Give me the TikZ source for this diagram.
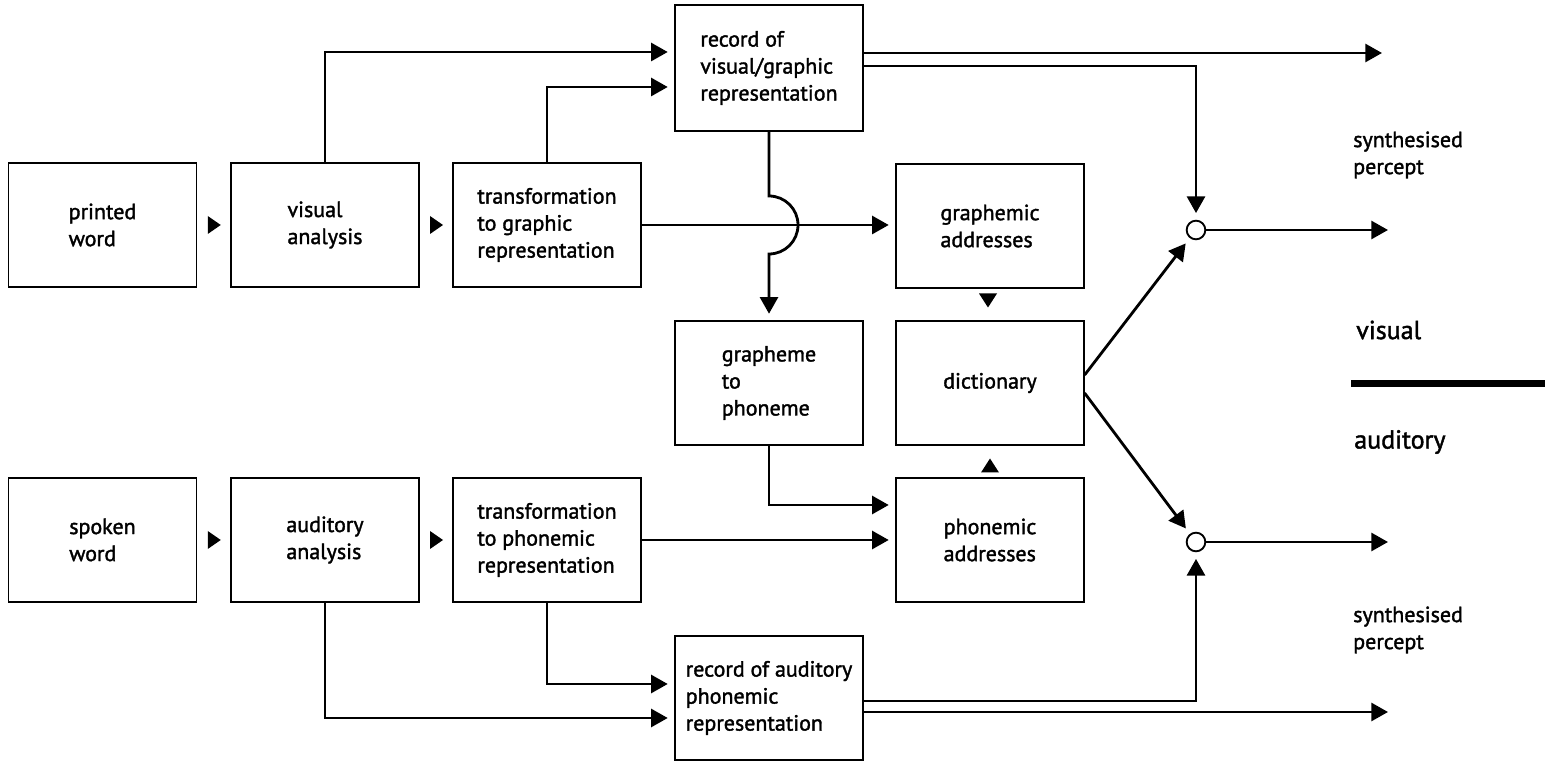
\documentclass[tikz,border=0pt]{standalone}
\usepackage{fontspec}
\setmainfont{PT Sans}[BoldFont={PT Sans}, BoldFeatures={FakeBold=1.6}]
\usetikzlibrary{arrows.meta,calc}
\begin{document}
\begin{tikzpicture}[x=0.75pt,y=0.75pt,
  box/.style={draw, line width=0.9pt, minimum width=141pt, minimum height=93pt, align=left, inner sep=0pt, font=\fontsize{16.5}{20.25}\selectfont\bfseries},
  conn/.style={line width=2.1pt, -{Triangle[length=12.5pt,width=13.5pt]}, shorten >=5pt},
  free/.style={conn, shorten >=0pt},
  junc/.style={draw, circle, line width=1.4pt, minimum size=14pt, inner sep=0pt},
  lbl/.style={anchor=west, align=left, inner sep=0pt, font=\fontsize{16.5}{20.25}\selectfont\bfseries},
  biglbl/.style={anchor=west, inner sep=0pt, font=\fontsize{19.5}{23}\selectfont\bfseries}
]
\useasboundingbox (0,0) rectangle (1554,-762);

% boxes
\node[box] (pw) at (102.5,-225) {printed\\word\hspace*{12pt}};
\node[box] (va) at (325,-225) {visual\\analysis};
\node[box] (tg) at (547,-225) {transformation\\to graphic\\representation};
\node[box, minimum height=94.5pt] (rv) at (769,-68) {record of\\visual/graphic\\representation};
\node[box] (ga) at (990,-226) {graphemic\\addresses};
\node[box] (gp) at (769,-383) {grapheme\\to\\phoneme};
\node[box] (dc) at (990,-383) {dictionary};
\node[box] (pa) at (990,-540) {phonemic\\addresses};
\node[box] (sw) at (102.5,-540) {spoken\\word\hspace*{12pt}};
\node[box] (aa) at (325,-540) {auditory\\analysis};
\node[box] (tp) at (547,-540) {transformation\\to phonemic\\representation};
\node[box] (ra) at (769,-698) {record of auditory\\phonemic\\representation};

% junctions
\node[junc] (c1) at (1196,-230) {};
\node[junc] (c2) at (1196,-542) {};

% free ends
\coordinate (o1) at (1382,-53);
\coordinate (o2) at (1388,-230);
\coordinate (o3) at (1388,-542);
\coordinate (o4) at (1388,-712);

% small flow triangles
\fill ($(pw.east)!0.5!(va.west)$) +(-6,9) -- +(7,0) -- +(-6,-9) -- cycle;
\fill ($(va.east)!0.5!(tg.west)$) +(-6,9) -- +(7,0) -- +(-6,-9) -- cycle;
\fill ($(sw.east)!0.5!(aa.west)$) +(-6,9) -- +(7,0) -- +(-6,-9) -- cycle;
\fill ($(aa.east)!0.5!(tp.west)$) +(-6,9) -- +(7,0) -- +(-6,-9) -- cycle;
\fill ($(ga.south)!0.5!(dc.north)+(-2,4)$) +(-9,7) -- +(9,7) -- +(0,-7) -- cycle;
\fill ($(pa.north)!0.5!(dc.south)+(0,-4)$) +(-9,-7) -- +(9,-7) -- +(0,7) -- cycle;

% connectors
\draw[conn] (va.north) |- ($(rv.west)+(0,16)$);
\draw[conn] (tg.north) |- ($(rv.west)+(0,-19)$);
\draw[free] ($(rv.east)+(0,15)$) -- (o1);
\draw[conn] ($(rv.east)+(0,2)$) -| (c1);
\draw[conn] (tg.east) -- (tg.east -| ga.west);
\draw[conn] (rv.south) -- ($(rv.south |- tg.east)+(0,29)$) arc[start angle=90,end angle=-90,radius=21.75pt] -- (gp.north);
\draw[conn] (gp.south) |- ($(pa.west)+(0,35)$);
\draw[conn] (tp.east) -- (pa.west);
\draw[conn] (tp.south) |- ($(ra.west)+(0,14)$);
\draw[conn] (aa.south) |- ($(ra.west)+(0,-20)$);
\draw[conn] ($(ra.east)+(0,-3)$) -| (c2);
\draw[free] ($(ra.east)+(0,-14)$) -- (o4);
\draw[conn] ($(dc.east)+(0,8)$) -- (c1);
\draw[conn] ($(dc.east)+(0,-10)$) -- (c2);
\draw[free] (c1) -- (o2);
\draw[free] (c2) -- (o3);

% labels
\node[lbl] (sp1) at (1353,-155) {synthesised\\percept};
\node[lbl] (sp2) at (1353,-630) {synthesised\\percept};
\node[biglbl] (vis) at (1356,-330) {visual};
\node[biglbl] (aud) at (1354,-442) {auditory};
\draw[line width=5.25pt] (1351,-383.5) -- (1545,-383.5);
\end{tikzpicture}
\end{document}
